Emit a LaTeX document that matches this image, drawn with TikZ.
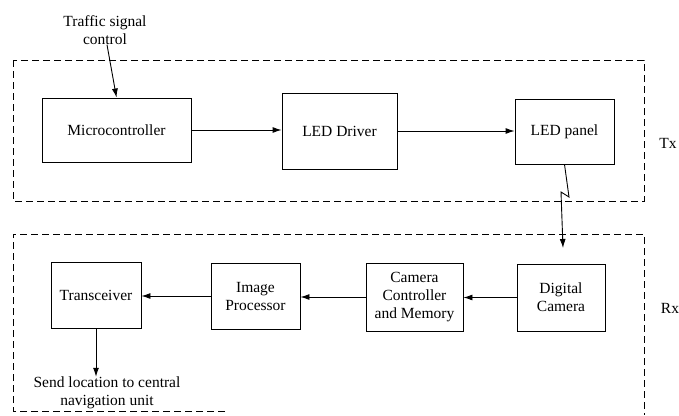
\documentclass[tikz,border=0pt]{standalone}
\usepackage{fontspec}
\setmainfont{Liberation Serif}
\usetikzlibrary{arrows.meta}
\begin{document}
\begin{tikzpicture}[x=1pt,y=-1pt,
  blk/.style={draw,line width=0.9pt,inner sep=0pt,align=center,font=\fontsize{15.5}{18}\selectfont},
  lbl/.style={inner sep=0pt,align=center,font=\fontsize{15.5}{18}\selectfont},
  arr/.style={line width=0.9pt,-{Latex[length=9pt,width=6pt]}},
  grp/.style={line width=0.9pt,dash pattern=on 7pt off 4pt}]
\useasboundingbox (0,0) rectangle (679,415);
% groups
\draw[grp] (13,60) rectangle (644,201);
\draw[grp] (225,411) -- (13,411) -- (13,234) -- (644,234) -- (644,415);
% blocks
\node[blk,minimum width=149pt,minimum height=64pt] (micro) at (116.5,130) {Microcontroller};
\node[blk,minimum width=115pt,minimum height=76pt] (drv) at (339.5,131) {LED Driver};
\node[blk,minimum width=99pt,minimum height=65pt] (panel) at (564.5,131.5) {LED panel};
\node[blk,minimum width=90pt,minimum height=66pt] (trx) at (96,295) {Transceiver};
\node[blk,minimum width=89pt,minimum height=66pt] (ip) at (255.5,296) {Image\\Processor};
\node[blk,minimum width=97pt,minimum height=68pt] (ccm) at (414.5,297) {Camera\\Controller\\and Memory};
\node[blk,minimum width=88pt,minimum height=67pt] (dc) at (561,297.5) {Digital\\Camera};
% labels
\node[lbl] (tsc) at (105,30) {Traffic signal\\control};
\node[lbl] (send) at (107,393) {Send location to central\\navigation unit};
\node[lbl] (tx) at (668,143) {Tx};
\node[lbl] (rx) at (670,308) {Rx};
% connectors
\draw[arr] ([xshift=2pt]tsc.south) -- (micro.north);
\draw[arr] (micro.east) -- (drv.west |- micro.east);
\draw[arr] (drv.east) -- (panel.west |- drv.east);
\draw[arr] (dc.west) -- (ccm.east |- dc.west);
\draw[arr] (ccm.west) -- (ip.east |- ccm.west);
\draw[arr] (ip.west) -- (trx.east |- ip.west);
\draw[arr] (trx.south) -- (trx.south |- send.north);
\coordinate (z1) at (569,197);
\coordinate (z2) at (561,192);
\coordinate (zend) at (563,248);
\draw[arr] (panel.south) -- (z1) -- (z2) -- (zend);
\end{tikzpicture}
\end{document}
